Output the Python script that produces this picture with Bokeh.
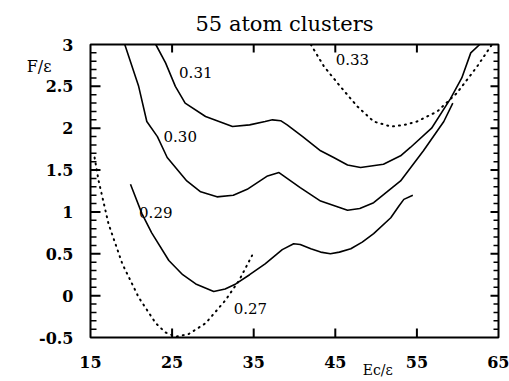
from bokeh.plotting import figure
from bokeh.models import LinearAxis, FixedTicker, Label
from bokeh.embed import file_html
from bokeh.resources import INLINE

# ---- data ----
x_031 = [23.0, 24.2, 25.4, 26.6, 29.1, 32.4, 34.5, 36.4, 37.3, 38.3, 39.1, 41.0, 43.2, 44.8, 46.5, 48.1, 50.9, 53.0, 54.2, 56.8, 59.1, 60.5, 61.6, 62.7]
y_031 = [3.0, 2.78, 2.5, 2.3, 2.14, 2.02, 2.04, 2.08, 2.10, 2.09, 2.04, 1.9, 1.73, 1.65, 1.56, 1.53, 1.57, 1.67, 1.77, 2.0, 2.35, 2.6, 2.9, 3.0]

x_030 = [19.2, 20.9, 21.9, 23.2, 24.4, 26.8, 28.5, 30.5, 32.5, 34.2, 36.7, 38.1, 40.7, 43.2, 46.5, 48.0, 49.7, 53.0, 55.8, 58.3, 59.4]
y_030 = [3.0, 2.5, 2.08, 1.9, 1.65, 1.37, 1.24, 1.18, 1.2, 1.27, 1.43, 1.47, 1.29, 1.13, 1.02, 1.04, 1.11, 1.37, 1.73, 2.08, 2.30]

x_029 = [19.9, 21.3, 22.5, 24.6, 26.3, 27.9, 30.1, 31.5, 32.8, 34.5, 36.4, 38.5, 39.9, 40.7, 42.0, 43.2, 44.4, 45.5, 46.9, 48.3, 49.7, 51.8, 52.8, 53.4, 54.5]
y_029 = [1.33, 0.98, 0.75, 0.42, 0.25, 0.14, 0.05, 0.08, 0.14, 0.25, 0.38, 0.55, 0.62, 0.61, 0.56, 0.52, 0.50, 0.52, 0.56, 0.64, 0.74, 0.93, 1.07, 1.15, 1.20]

x_027 = [15.5, 16.0, 17.2, 18.9, 20.9, 23.0, 24.2, 25.5, 27.0, 29.1, 31.5, 33.2, 34.8]
y_027 = [1.65, 1.37, 0.86, 0.38, -0.02, -0.33, -0.44, -0.49, -0.46, -0.33, -0.06, 0.18, 0.48]

x_033 = [42.0, 43.6, 45.6, 47.7, 49.7, 51.8, 53.5, 55.0, 57.5, 59.9, 62.4, 64.2]
y_033 = [3.0, 2.74, 2.5, 2.26, 2.08, 2.02, 2.04, 2.08, 2.20, 2.42, 2.74, 3.0]

curve_labels = ["0.31", "0.30", "0.29", "0.27", "0.33"]
label_x = [27.9, 26.0, 23.0, 34.6, 47.1]
label_y = [2.66, 1.90, 0.99, -0.15, 2.82]

x_ticks = [15, 25, 35, 45, 55, 65]
y_ticks = [-0.5, 0, 0.5, 1, 1.5, 2, 2.5, 3]
y_tick_labels = ["-0.5", "0", "0.5", "1", "1.5", "2", "2.5", "3"]
y_minor = [round(-0.5 + 0.1 * i, 1) for i in range(36)]

title_text = "55 atom clusters"
y_label = "F/\u03b5"
y_label_at = 2.74
x_label = "Ec/\u03b5"
x_label_at = 50.2

SERIF = "DejaVu Serif"
X0, X1, Y0, Y1 = 15, 65, -0.5, 3
W, H = 509, 381
BL, BR, BT, BB = 90, 11, 43, 44
NAN = float("nan")

p = figure(width=W, height=H, x_range=(X0, X1), y_range=(Y0, Y1),
           output_backend="svg", toolbar_location=None, title=title_text,
           min_border_left=BL, min_border_right=BR, min_border_top=BT,
           min_border_bottom=BB, x_axis_location=None, y_axis_location=None)
p.grid.visible = False
p.outline_line_color = "black"
p.outline_line_width = 2
p.background_fill_color = "white"
p.border_fill_color = "white"
p.title.text_font = SERIF
p.title.text_font_size = "21px"
p.title.text_font_style = "normal"
p.title.align = "left"
p.title.offset = 105
p.title.standoff = 18
p.title.text_color = "black"

xt = FixedTicker(ticks=x_ticks, minor_ticks=[])
yt = FixedTicker(ticks=y_ticks, minor_ticks=[])


def style(ax):
    ax.axis_line_color = None
    ax.major_tick_line_color = None
    ax.minor_tick_line_color = None
    ax.major_tick_in = ax.major_tick_out = 0
    ax.minor_tick_in = ax.minor_tick_out = 0
    ax.major_label_text_font = SERIF
    ax.major_label_text_font_style = "bold"
    ax.major_label_text_font_size = "16px"
    ax.major_label_text_color = "black"


bx = LinearAxis(ticker=xt)
style(bx)
bx.major_label_standoff = 18
p.add_layout(bx, "below")

ly = LinearAxis(ticker=yt)
style(ly)
ly.major_label_standoff = 17
ly.major_label_overrides = {t: s for t, s in zip(y_ticks, y_tick_labels)}
p.add_layout(ly, "left")

lname = LinearAxis(ticker=FixedTicker(ticks=[y_label_at], minor_ticks=[]),
                   major_label_overrides={y_label_at: y_label})
style(lname)
lname.major_label_text_font_style = "normal"
lname.major_label_standoff = -15
p.add_layout(lname, "left")

bname = LinearAxis(ticker=FixedTicker(ticks=[x_label_at], minor_ticks=[]),
                   major_label_overrides={x_label_at: x_label})
style(bname)
bname.major_label_text_font_style = "normal"
bname.major_label_text_font_size = "14px"
bname.major_label_standoff = -9
p.add_layout(bname, "below")

# inward tick marks, drawn as broken lines built from the tick values
dx = (X1 - X0) / (W - BL - BR)   # data units per pixel
dy = (Y1 - Y0) / (H - BT - BB)

maj_x, maj_y = [], []
for v in x_ticks[1:-1]:
    maj_x += [v, v, NAN, v, v, NAN]
    maj_y += [Y0, Y0 + 9 * dy, NAN, Y1, Y1 - 8 * dy, NAN]
for v in y_ticks[1:-1]:
    maj_x += [X0, X0 + 10 * dx, NAN, X1, X1 - 8 * dx, NAN]
    maj_y += [v, v, NAN, v, v, NAN]

min_x, min_y = [], []
for v in y_minor:
    if v in y_ticks:
        continue
    min_x += [X0, X0 + 6 * dx, NAN, X1, X1 - 5 * dx, NAN]
    min_y += [v, v, NAN, v, v, NAN]

p.line(maj_x, maj_y, line_color="black", line_width=2)
p.line(min_x, min_y, line_color="black", line_width=1.5)

# solid curves
for xs, ys in [(x_031, y_031), (x_030, y_030), (x_029, y_029)]:
    p.line(xs, ys, line_color="black", line_width=1.6)

# dotted curves
for xs, ys in [(x_027, y_027), (x_033, y_033)]:
    p.line(xs, ys, line_color="black", line_width=2, line_dash="1 5", line_cap="round")

for t, lx, ly_ in zip(curve_labels, label_x, label_y):
    p.add_layout(Label(x=lx, y=ly_, text=t, text_font=SERIF, text_font_size="15px",
                       text_align="center", text_baseline="middle", text_color="black"))

open("out.html", "w").write(file_html(p, INLINE))
